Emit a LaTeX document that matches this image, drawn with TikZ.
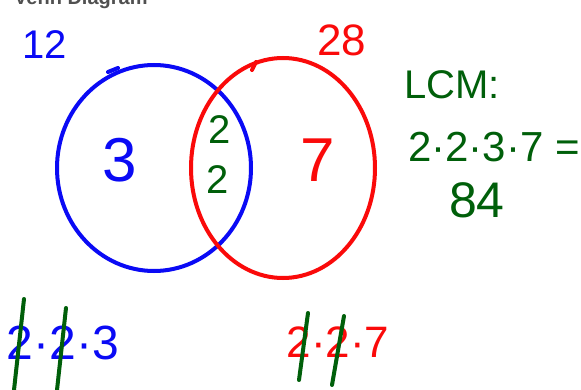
\documentclass[tikz,border=0pt]{standalone}
\usepackage{fontspec}
\setmainfont{Liberation Sans}
\definecolor{inkblue}{RGB}{10,10,245}
\definecolor{inkred}{RGB}{250,10,10}
\definecolor{inkgreen}{RGB}{0,95,10}
\definecolor{titlegray}{RGB}{80,80,80}
\tikzset{
  ring/.style={line width=4pt},
  hand/.style={inner sep=0pt},
  strike/.style={draw=inkgreen, line width=4pt, line cap=round},
}
\begin{document}
\begin{tikzpicture}[x=1pt,y=-1pt]
\useasboundingbox (0,0) rectangle (581,390);
\clip (0,0) rectangle (581,390);
\fill[white] (0,0) rectangle (581,390);
% title (cut off at the top edge, as in the reference)
\node[hand, anchor=base west, text=titlegray, font=\bfseries\fontsize{20}{24}\selectfont] (title) at (14,5) {Venn Diagram};
% circles
\draw[ring, inkblue] (154,168) ellipse [x radius=97, y radius=103];
\draw[ring, inkred] (283,168) ellipse [x radius=92, y radius=110];
\draw[ring, inkblue, line cap=round] (108,72) -- (118,68);
\draw[ring, inkred, line cap=round] (252,70) -- (256,62);
% set labels
\node[hand, text=inkblue, font=\fontsize{40}{44}\selectfont] (n12) at (45,45) {12};
\node[hand, text=inkred, font=\fontsize{44}{48}\selectfont] (n28) at (342,40) {28};
% regions
\node[hand, text=inkblue, font=\fontsize{62}{66}\selectfont] (three) at (120,160) {3};
\node[hand, text=inkred, font=\fontsize{62}{66}\selectfont] (seven) at (318,160) {7};
\node[hand, text=inkgreen, font=\fontsize{40}{44}\selectfont] (twoa) at (220,130) {2};
\node[hand, text=inkgreen, font=\fontsize{40}{44}\selectfont] (twob) at (218,180) {2};
% LCM
\node[hand, text=inkgreen, font=\fontsize{40}{44}\selectfont] (lcm) at (452,85) {LCM:};
\node[hand, text=inkgreen, font=\fontsize{42}{46}\selectfont, anchor=west] (prod) at (408,147) {2·2·3·7 =};
\node[hand, text=inkgreen, font=\fontsize{50}{54}\selectfont] (res) at (477,200) {84};
% bottom factorizations
\node[hand, text=inkblue, font=\fontsize{48}{52}\selectfont] (fb) at (63,343) {2·2·3};
\node[hand, text=inkred, font=\fontsize{44}{48}\selectfont] (fr) at (338,342) {2·2·7};
% strike lines
\draw[strike] (24,299) -- (14,390);
\draw[strike] (66,308) -- (57,390);
\draw[strike] (308,313) -- (299,380);
\draw[strike] (344,316) -- (332,385);
\end{tikzpicture}
\end{document}
